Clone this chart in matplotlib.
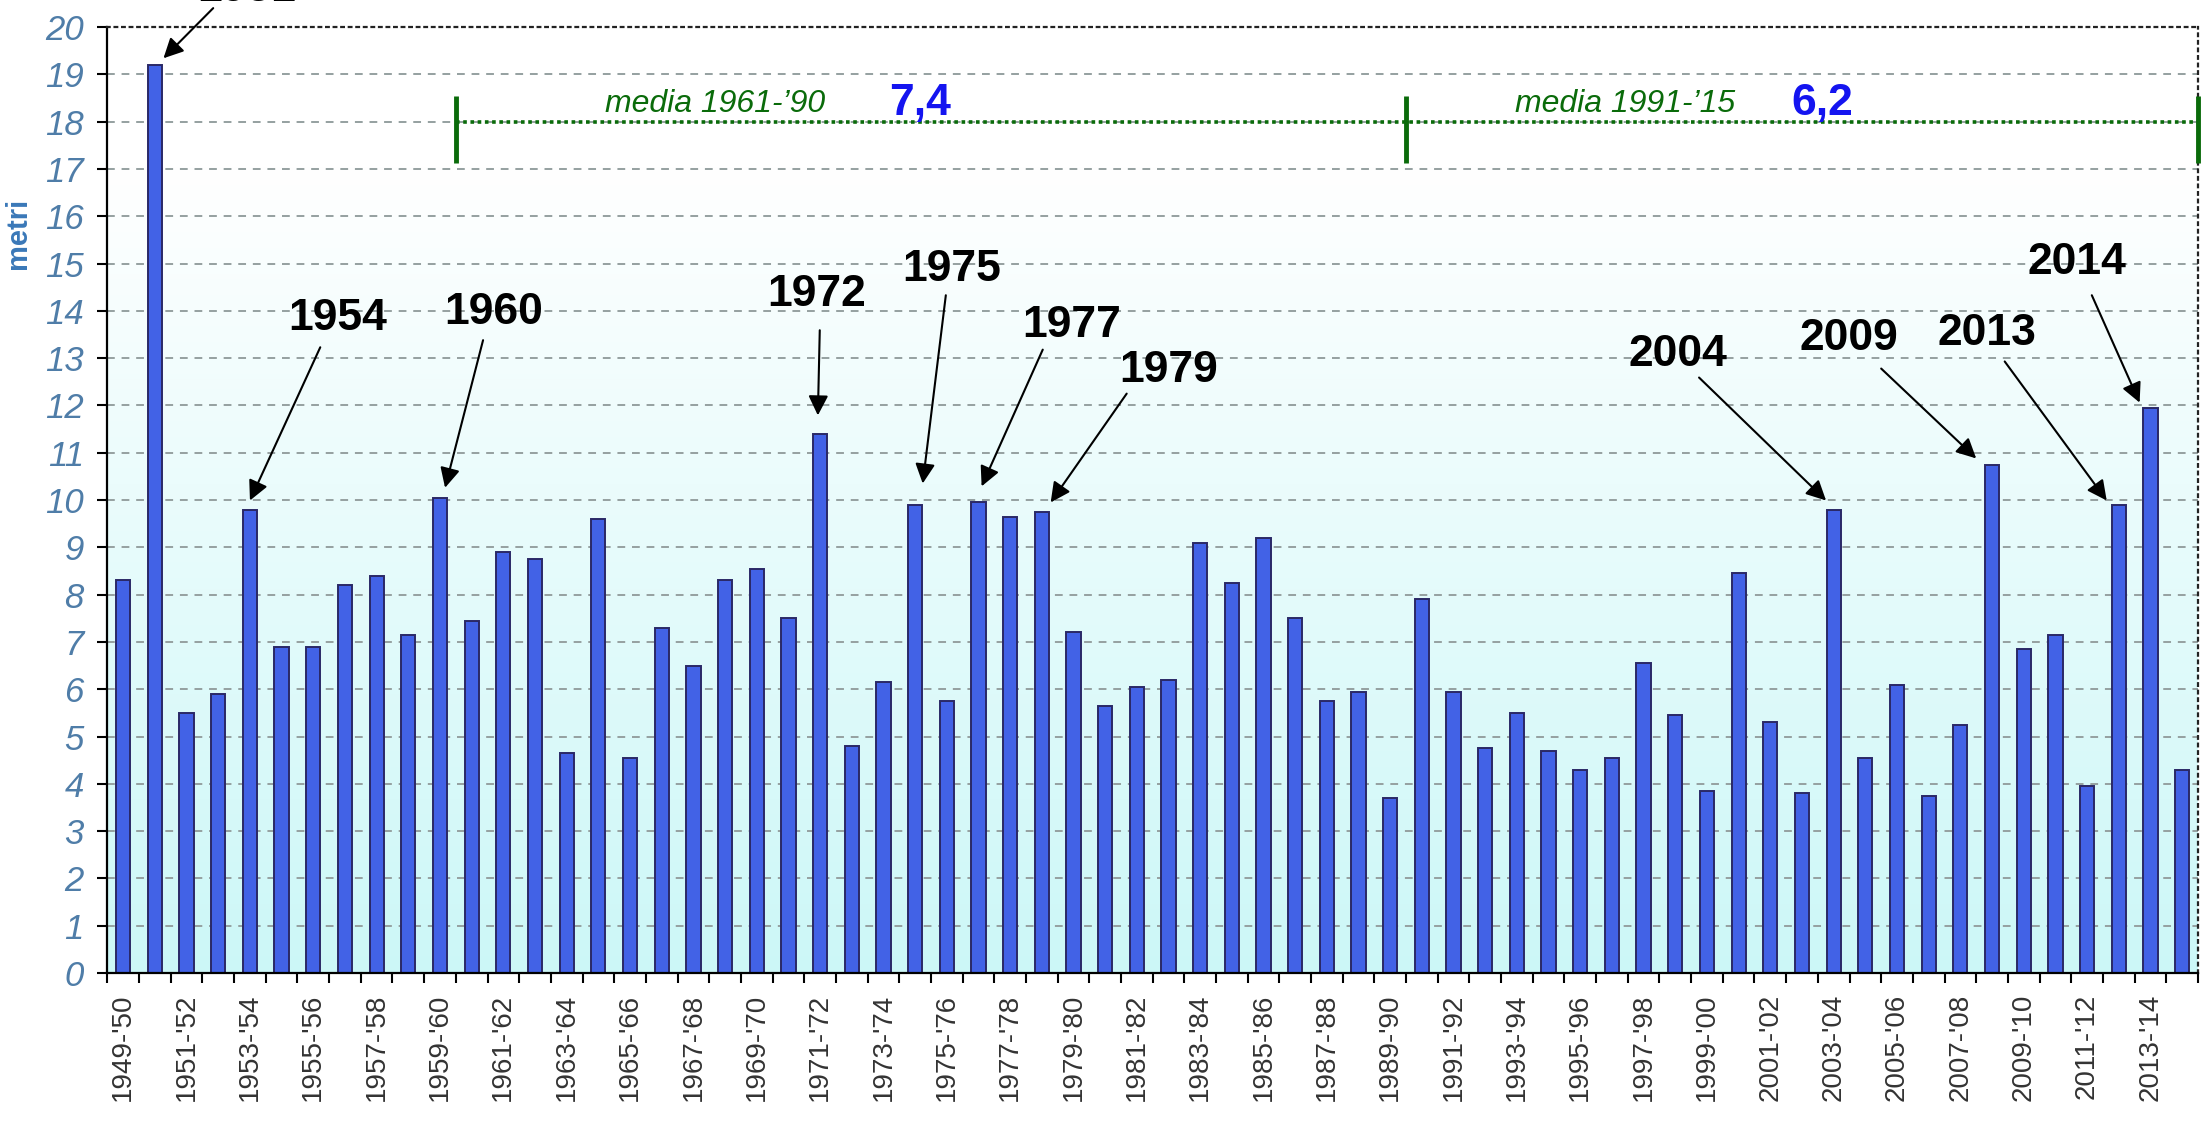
import numpy as np
import matplotlib
matplotlib.use('Agg')
import matplotlib.pyplot as plt

# seasons 1949-'50 ... 2014-'15
start_years = list(range(1949, 2015))
seasons = [f"{y}-'{(y + 1) % 100:02d}" for y in start_years]

# snow height (metri) per season
values = [8.3, 19.2, 5.5, 5.9, 9.8, 6.9, 6.9, 8.2, 8.4, 7.15,
          10.05, 7.45, 8.9, 8.75, 4.65, 9.6, 4.55, 7.3, 6.5, 8.3,
          8.55, 7.5, 11.4, 4.8, 6.15, 9.9, 5.75, 9.95, 9.65, 9.75,
          7.2, 5.65, 6.05, 6.2, 9.1, 8.25, 9.2, 7.5, 5.75, 5.95,
          3.7, 7.9, 5.95, 4.75, 5.5, 4.7, 4.3, 4.55, 6.55, 5.45,
          3.85, 8.45, 5.3, 3.8, 9.8, 4.55, 6.1, 3.75, 5.25, 10.75,
          6.85, 7.15, 3.95, 9.9, 11.95, 4.3]

# highlighted seasons (label, bar index)
highlight_labels = ['1951', '1954', '1960', '1972', '1975', '1977', '1979',
                    '2004', '2009', '2013', '2014']
highlight_bars = [1, 4, 10, 22, 25, 27, 29, 54, 59, 63, 64]

# period means
mean_labels = ["media 1961-\u201990", "media 1991-\u201915"]
mean_values = ['7,4', '6,2']

# layout for labels / arrows (text pos, arrow start, arrow tip) in data units
label_pos = [(3.9, 20.8), (6.76, 13.84), (11.68, 13.97), (21.9, 14.35),
             (26.16, 14.88), (29.94, 13.69), (33.0, 12.74), (49.09, 13.08),
             (54.48, 13.42), (58.84, 13.52), (61.68, 15.03)]
arrow_start = [(2.84, 20.4), (6.22, 13.23), (11.36, 13.38), (21.99, 13.59),
               (25.97, 14.33), (29.03, 13.18), (31.68, 12.25), (49.75, 12.59),
               (55.5, 12.78), (59.4, 12.93), (62.15, 14.33)]
arrow_tip_dx = [0.27, 0.0, 0.16, -0.07, 0.24, 0.1, 0.28, -0.24, -0.5, -0.38, -0.34]
arrow_tip_y = [19.34, 9.99, 10.26, 11.79, 10.35, 10.29, 9.95, 9.99, 10.88, 9.99, 12.06]

NARROW = ['Liberation Sans Narrow', 'Liberation Sans', 'DejaVu Sans']
SANS = ['Liberation Sans', 'DejaVu Sans']

fig = plt.figure(figsize=(22.01, 11.27), dpi=100)
ax = fig.add_axes([0.0488, 0.1366, 0.9498, 0.8394])

n = len(values)
x = np.arange(n)
ax.set_xlim(-0.5, n - 0.5)
ax.set_ylim(0, 20)

# background gradient: white at top -> light cyan at bottom
yy = np.linspace(20, 0, 400)
t = np.clip((17.0 - yy) / 17.0, 0, 1)[:, None]
top_c = np.array([1.0, 1.0, 1.0])
bot_c = np.array([0.80, 0.97, 0.97])
grad = (1 - t)[:, :, None] * top_c + t[:, :, None] * bot_c
grad = np.repeat(grad, 2, axis=1)
ax.imshow(grad, extent=(-0.5, n - 0.5, 0, 20), aspect='auto', zorder=0,
          interpolation='bilinear')

# horizontal grid
for v in range(1, 20):
    ax.axhline(v, color='#95a0a0', lw=1.4, ls=(0, (4, 3.5)), zorder=1)

ax.bar(x, values, width=0.45, color='#4262e6', edgecolor='#2a2866',
       linewidth=1.4, zorder=2)

# spines
for s in ['top', 'right']:
    ax.spines[s].set_linestyle((0, (1.2, 2.2)))
    ax.spines[s].set_linewidth(1.6)
    ax.spines[s].set_color('#222222')
for s in ['left', 'bottom']:
    ax.spines[s].set_linewidth(1.6)
    ax.spines[s].set_color('black')

# y axis
ax.set_yticks(range(0, 21))
ax.set_yticklabels([str(v) for v in range(0, 21)], fontstyle='italic',
                   family=NARROW, fontsize=25, color='#4f7da8')
ax.tick_params(axis='y', length=7, width=1.5, pad=10, direction='out')
ax.set_ylabel('metri', fontsize=21, fontweight='bold', color='#3a78b8',
              family=SANS)
ax.yaxis.set_label_coords(-0.0362, 0.782)

# x axis: ticks between categories, labels every other season
ax.set_xticks(np.arange(-0.5, n, 1.0))
ax.set_xticklabels([])
ax.set_xticks(x[::2], minor=True)
ax.set_xticklabels(seasons[::2], minor=True, rotation=90, fontsize=20,
                   family=SANS, color='#333333')
ax.tick_params(axis='x', which='major', length=7, width=1.5, direction='out')
ax.tick_params(axis='x', which='minor', length=0, pad=15)

# mean periods
green = '#0a6b0a'
ax.plot([10.5, n - 0.5], [18, 18], color=green, lw=2.6, ls=(0, (1, 1)),
        zorder=3, clip_on=False)
for xv in [10.5, 40.5, n - 0.5]:
    ax.plot([xv, xv], [17.12, 18.55], color=green, lw=3.5, zorder=3,
            clip_on=False, solid_capstyle='butt')
mean_text_x = [18.7, 47.42]
mean_val_x = [25.15, 53.63]
for lbl, mx, val, vx in zip(mean_labels, mean_text_x, mean_values, mean_val_x):
    ax.text(mx, 18.2, lbl, color=green, fontsize=23, fontstyle='italic',
            family=SANS, ha='center', va='baseline', zorder=4)
    ax.text(vx, 18.15, val, color='#1414f0', fontsize=32, fontweight='bold',
            family=SANS, ha='center', va='baseline', zorder=4)

# highlighted seasons with arrows
for lbl, bi, tp, st, dx, ty in zip(highlight_labels, highlight_bars, label_pos,
                                   arrow_start, arrow_tip_dx, arrow_tip_y):
    ax.text(tp[0], tp[1], lbl, fontsize=32, fontweight='bold', family=NARROW,
            ha='center', va='center', color='black', zorder=5, clip_on=False)
    ax.annotate('', xy=(x[bi] + dx, ty), xytext=st, zorder=5,
                annotation_clip=False,
                arrowprops=dict(arrowstyle='-|>', color='black', lw=1.5,
                                mutation_scale=30, shrinkA=0, shrinkB=0))

fig.savefig('out.png', dpi=100)
